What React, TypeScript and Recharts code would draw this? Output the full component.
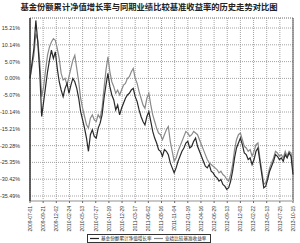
import React from "react";
import {
  LineChart,
  Line,
  XAxis,
  YAxis,
  CartesianGrid,
  Legend,
  ReferenceLine,
} from "recharts";

const title = "基金份额累计净值增长率与同期业绩比较基准收益率的历史走势对比图";
const fundName = "基金份额累计净值增长率";
const benchName = "业绩比较基准收益率";

// x tick labels, one every 54 trading days
const dateLabels = [
  "2009-07-01", "2009-09-21", "2009-12-02", "2010-02-24", "2010-05-13",
  "2010-07-27", "2010-10-19", "2010-12-29", "2011-03-17", "2011-06-02",
  "2011-08-16", "2011-11-04", "2012-01-19", "2012-04-16", "2012-06-29",
  "2012-09-13", "2012-12-03", "2013-02-22", "2013-05-13", "2013-07-25",
  "2013-10-15",
];
const TICK_STEP = 54;

const yTicks = [15.21, 10.14, 5.07, 0, -5.07, -10.14, -15.21, -20.28, -25.35, -30.42, -35.49];

// sampled every 8 trading days (%)
const POINT_STEP = 8;
const fundValues = [
  0, 4.5, 9, 17.5, 11, 2, -11.5, -7, -2.5, 2,
  5.5, 8.5, 6, 8, 3, -1, -3.5, -5.5, -3, -1.5,
  -4.5, -2, 0, -1, -3, -6, -10, -12.5, -15, -18,
  -22, -17, -15.5, -17.5, -18, -15, -13.5, -11, -6, -2,
  1.5, -2.5, -5, -6.5, -9.5, -8, -11, -9, -7.5, -6,
  -5, -4.5, -3.5, -3, -5.5, -7, -9.5, -11.5, -13, -14,
  -11.5, -10, -13, -16, -18, -19.5, -21.5, -22, -23.5, -21.5,
  -22, -23, -25.5, -27, -28.5, -27, -25, -23.5, -22, -21,
  -19.5, -19, -21, -20.5, -19, -18, -20.5, -22, -23.5, -25,
  -26.5, -27, -26, -28, -28.5, -29.5, -30, -31, -30.5, -32,
  -32.5, -33.5, -33, -31, -28, -24, -21, -19.5, -18, -20,
  -22.5, -23, -24.5, -24, -26, -24.5, -22, -21, -25, -29,
  -33, -32.5, -30.5, -28, -26.5, -25, -23, -23.5, -24.5, -24,
  -25, -23, -24, -22.5, -23.5, -29,
];
const benchValues = [
  0, 3.5, 7, 13.5, 11.5, 5, -5.5, -2.5, 2.5, 7,
  9.5, 11, 12, 11.5, 9, 6, 1.5, -0.5, 0, -2,
  0.5, 3, 5.5, 7, 3, -1, -6, -9, -11.5, -14,
  -15, -12, -11, -12.5, -13, -11, -12, -9, -3, 2.5,
  6.5, 2, -1, -2.5, -4.5, -3.5, -5, -3.5, -2, -1.5,
  0, 0.5, 2, 3, 0, -1.5, -4, -6, -8, -9,
  -6, -4.5, -8, -11, -13, -15, -16.5, -17, -18.5, -17,
  -15.5, -14.5, -19, -22, -25, -24, -22, -20.5, -19, -17.5,
  -16, -16.5, -17.5, -17, -16, -16.5, -17, -18.5, -20, -21.5,
  -23, -24.5, -25.5, -26, -26.5, -27, -27.5, -28.5, -28, -29,
  -29.5, -30.5, -31, -29, -26, -21.5, -18.5, -17, -16.5, -18.5,
  -20.5, -21, -22, -21.5, -23.5, -22, -20, -19.5, -24, -28,
  -32, -31.5, -29.5, -27, -25.5, -24, -22, -22.5, -23.5, -23,
  -24, -22, -23.5, -22, -22.5, -28,
];

const Y_MIN = -37.0;
const Y_MAX = 18.23;

const data = fundValues.map((v, i) => ({
  day: i * POINT_STEP,
  fund: v,
  bench: benchValues[i],
}));

const xTicks = dateLabels.map((_, i) => i * TICK_STEP);
const lastDay = xTicks[xTicks.length - 1];

const FONT = "'Liberation Sans', Arial, sans-serif";
const CJK = "'Noto Sans CJK SC', sans-serif";

function DateTick(props: any) {
  const { x, y, payload } = props;
  const label = dateLabels[Math.round(payload.value / TICK_STEP)];
  return (
    <text
      transform={`translate(${x + 1.8},${y + 1}) rotate(-90)`}
      textAnchor="end"
      fontSize={5}
      fill="#333"
      fontFamily={FONT}
    >
      {label}
    </text>
  );
}

function LegendBox() {
  return (
    <svg width={124} height={9} style={{ display: "block" }}>
      <rect x={0.5} y={0.5} width={123} height={8} fill="#fff" stroke="#333" strokeWidth={1} />
      <line x1={3} x2={12} y1={4.5} y2={4.5} stroke="#222" strokeWidth={1.2} />
      <text x={14} y={6.4} fontSize={4.6} fill="#222" fontFamily={CJK}>
        {fundName}
      </text>
      <line x1={67} x2={76} y1={4.5} y2={4.5} stroke="#888" strokeWidth={1.2} />
      <text x={78} y={6.4} fontSize={4.6} fill="#222" fontFamily={CJK}>
        {benchName}
      </text>
    </svg>
  );
}

export default function App() {
  return (
    <div
      style={{
        position: "absolute",
        left: 0,
        top: 0,
        width: 300,
        height: 243,
        background: "#fff",
        overflow: "hidden",
      }}
    >
      <div
        style={{
          position: "absolute",
          left: 0,
          top: 1,
          width: 298,
          textAlign: "center",
          fontFamily: CJK,
          fontWeight: 700,
          fontSize: 8.3,
          lineHeight: "10px",
          color: "#222",
          whiteSpace: "nowrap",
        }}
      >
        {title}
      </div>
      <LineChart
        width={300}
        height={243}
        data={data}
        margin={{ top: 18, right: 7, bottom: 12, left: 0 }}
      >
        <CartesianGrid stroke="#8c8c8c" strokeDasharray="1 1" strokeWidth={0.8} />
        <ReferenceLine y={Y_MAX} stroke="#8c8c8c" strokeDasharray="1 1" strokeWidth={0.8} />
        <XAxis
          dataKey="day"
          type="number"
          domain={[0, lastDay]}
          ticks={xTicks}
          interval={0}
          height={30}
          tick={<DateTick />}
          tickSize={2}
          tickLine={{ stroke: "#666" }}
          axisLine={{ stroke: "#c8c8c8", strokeWidth: 2 }}
        />
        <YAxis
          type="number"
          domain={[Y_MIN, Y_MAX]}
          ticks={yTicks}
          interval={0}
          width={30}
          tickLine={false}
          tickMargin={4}
          axisLine={{ stroke: "#333", strokeWidth: 1.5 }}
          tick={{ fontSize: 5.4, fill: "#333", fontFamily: FONT }}
          tickFormatter={(v: number) => `${v.toFixed(2)}%`}
        />
        <ReferenceLine x={lastDay} stroke="#555" strokeWidth={1} />
        <Legend
          verticalAlign="middle"
          layout="horizontal"
          content={() => <LegendBox />}
          wrapperStyle={{ position: "absolute", left: 87, top: 234, width: 124, height: 9 }}
        />
        <Line
          type="linear"
          dataKey="bench"
          name={benchName}
          stroke="#8a8a8a"
          strokeWidth={1.2}
          dot={false}
          isAnimationActive={false}
        />
        <Line
          type="linear"
          dataKey="fund"
          name={fundName}
          stroke="#2a2a2a"
          strokeWidth={1.2}
          dot={false}
          isAnimationActive={false}
        />
      </LineChart>
    </div>
  );
}
